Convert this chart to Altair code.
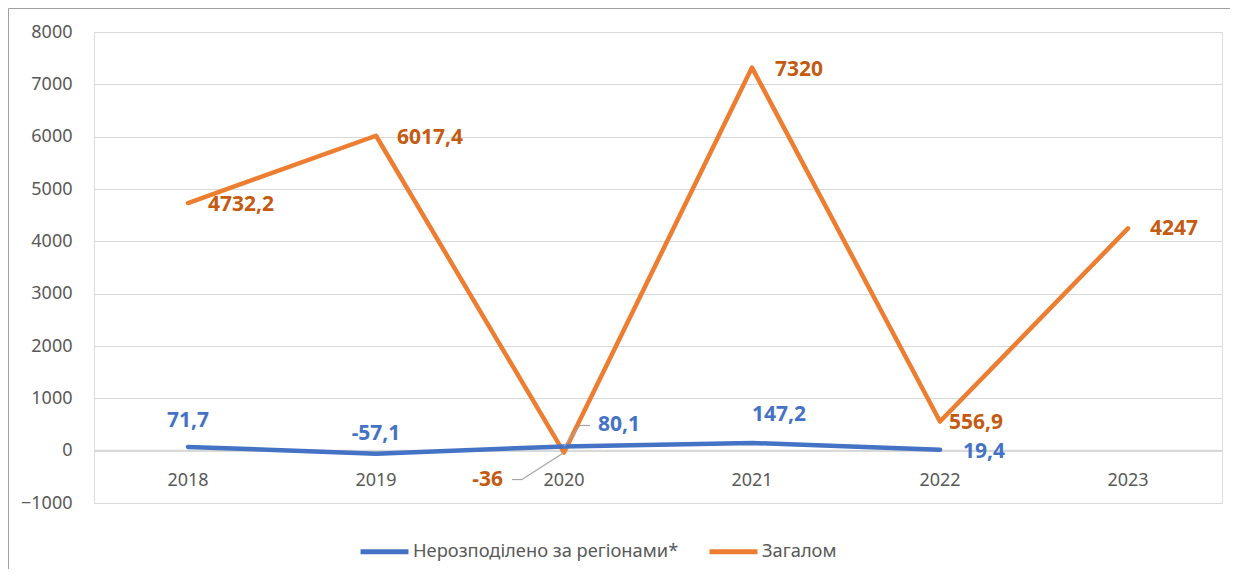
import altair as alt
import pandas as pd

years = ["2018", "2019", "2020", "2021", "2022", "2023"]
total = [4732.2, 6017.4, -36.0, 7320.0, 556.9, 4247.0]
unalloc = [71.7, -57.1, 80.1, 147.2, 19.4, None]
series_names = ["Нерозподілено за регіонами*", "Загалом"]
y_ticks = [-1000, 0, 1000, 2000, 3000, 4000, 5000, 6000, 7000, 8000]

def fmt(v):
    return f"{v:g}".replace(".", ",")

rows = []
for y, t, u in zip(years, total, unalloc):
    rows.append({"year": y, "value": t, "series": series_names[1], "label": fmt(t)})
    if u is not None:
        rows.append({"year": y, "value": u, "series": series_names[0], "label": fmt(u)})
df = pd.DataFrame(rows)
ticks_df = pd.DataFrame({"year": years, "value": [0] * len(years)})

BLUE = "#4472C4"
ORANGE = "#ED7D31"
ORANGE_T = "#C55A11"
GRAY = "#595959"
FONT = "Noto Sans"

x_enc = alt.X("year:O", scale=alt.Scale(type="point", padding=0.5, domain=years), axis=None)
y_scale = alt.Scale(domain=[-1000, 8000], nice=False, zero=False)
y_enc = alt.Y("value:Q", scale=y_scale,
              axis=alt.Axis(values=y_ticks, title=None, domain=False, ticks=False, format="d",
                            labelPadding=22, labelFontSize=18, labelColor=GRAY,
                            labelFont=FONT, gridColor="#D9D9D9", gridWidth=1))

base = alt.Chart(df)

lines = base.mark_line(strokeWidth=4.5, strokeCap="round", strokeJoin="round").encode(
    x=x_enc, y=y_enc,
    color=alt.Color("series:N",
                    scale=alt.Scale(domain=series_names, range=[BLUE, ORANGE]),
                    legend=alt.Legend(title=None, orient="none", direction="horizontal",
                                      legendX=264, legendY=493, symbolType="stroke",
                                      symbolSize=2300, symbolStrokeWidth=5,
                                      labelFontSize=18.3, labelColor=GRAY, labelFont=FONT,
                                      labelLimit=400, columnPadding=20, labelOffset=2)),
    order=alt.Order("year:O"),
)

zero_rule = alt.Chart(ticks_df).mark_rule(color="#D9D9D9", strokeWidth=2).encode(
    y=alt.Y("value:Q", scale=y_scale)
).transform_filter("datum.year == '2018'")

xlabels = alt.Chart(ticks_df).mark_text(fontSize=18, color=GRAY, font=FONT, dy=30).encode(
    x=x_enc, y=alt.Y("value:Q", scale=y_scale), text="year:N"
)

# label offsets (dx, dy, align) per series/year
offsets = {
    (series_names[1], "2018"): (20, 2, "left"),
    (series_names[1], "2019"): (21, 2, "left"),
    (series_names[1], "2020"): (-61, 27, "right"),
    (series_names[1], "2021"): (23, 2, "left"),
    (series_names[1], "2022"): (9, 1, "left"),
    (series_names[1], "2023"): (22, 1, "left"),
    (series_names[0], "2018"): (0, -26, "center"),
    (series_names[0], "2019"): (0, -20, "center"),
    (series_names[0], "2020"): (34, -21, "left"),
    (series_names[0], "2021"): (0, -28, "left"),
    (series_names[0], "2022"): (23, 2, "left"),
}

label_layers = []
for (s, yr), (dx, dy, al) in offsets.items():
    col = ORANGE_T if s == series_names[1] else BLUE
    label_layers.append(
        base.transform_filter(f"datum.series == '{s}' && datum.year == '{yr}'")
        .mark_text(fontSize=21, fontWeight="bold", color=col, font=FONT,
                   dx=dx, dy=dy, align=al, baseline="middle")
        .encode(x=x_enc, y=alt.Y("value:Q", scale=y_scale), text="label:N")
    )

# leader lines
lead_t = base.transform_filter(f"datum.series == '{series_names[1]}' && datum.year == '2020'")
lead1 = lead_t.mark_rule(color="#A6A6A6", strokeWidth=1.2, x2Offset=-42, y2Offset=27).encode(
    x=x_enc, y=alt.Y("value:Q", scale=y_scale), x2="year:O", y2="value:Q")
lead2 = lead_t.mark_rule(color="#A6A6A6", strokeWidth=1.2, xOffset=-42, x2Offset=-52,
                         yOffset=27, y2Offset=27).encode(
    x=x_enc, y=alt.Y("value:Q", scale=y_scale), x2="year:O", y2="value:Q")
lead_u = base.transform_filter(f"datum.series == '{series_names[0]}' && datum.year == '2020'")
lead3 = lead_u.mark_rule(color="#A6A6A6", strokeWidth=1.2, x2Offset=16, y2Offset=-21).encode(
    x=x_enc, y=alt.Y("value:Q", scale=y_scale), x2="year:O", y2="value:Q")
lead4 = lead_u.mark_rule(color="#A6A6A6", strokeWidth=1.2, xOffset=16, x2Offset=26,
                         yOffset=-21, y2Offset=-21).encode(
    x=x_enc, y=alt.Y("value:Q", scale=y_scale), x2="year:O", y2="value:Q")

# outer border
border_l = alt.Chart(ticks_df).mark_rule(color="#A0A0A0", strokeWidth=1, clip=False).encode(
    x=alt.value(-85.5), y=alt.value(-23.5), y2=alt.value(560)).transform_filter("datum.year == '2018'")
border_t = alt.Chart(ticks_df).mark_rule(color="#A0A0A0", strokeWidth=1, clip=False).encode(
    x=alt.value(-85.5), x2=alt.value(1140), y=alt.value(-23.5)).transform_filter("datum.year == '2018'")

chart = alt.layer(zero_rule, xlabels, lines, lead1, lead2, lead3, lead4, *label_layers,
                  border_l, border_t).properties(
    width=1128, height=471,
    autosize=alt.AutoSizeParams(type="none"),
    padding={"left": 86, "top": 24, "right": 8, "bottom": 66},
).configure_view(stroke=None).configure(background="white")

chart.save("out.html", embed_options={"renderer": "svg", "actions": False})
